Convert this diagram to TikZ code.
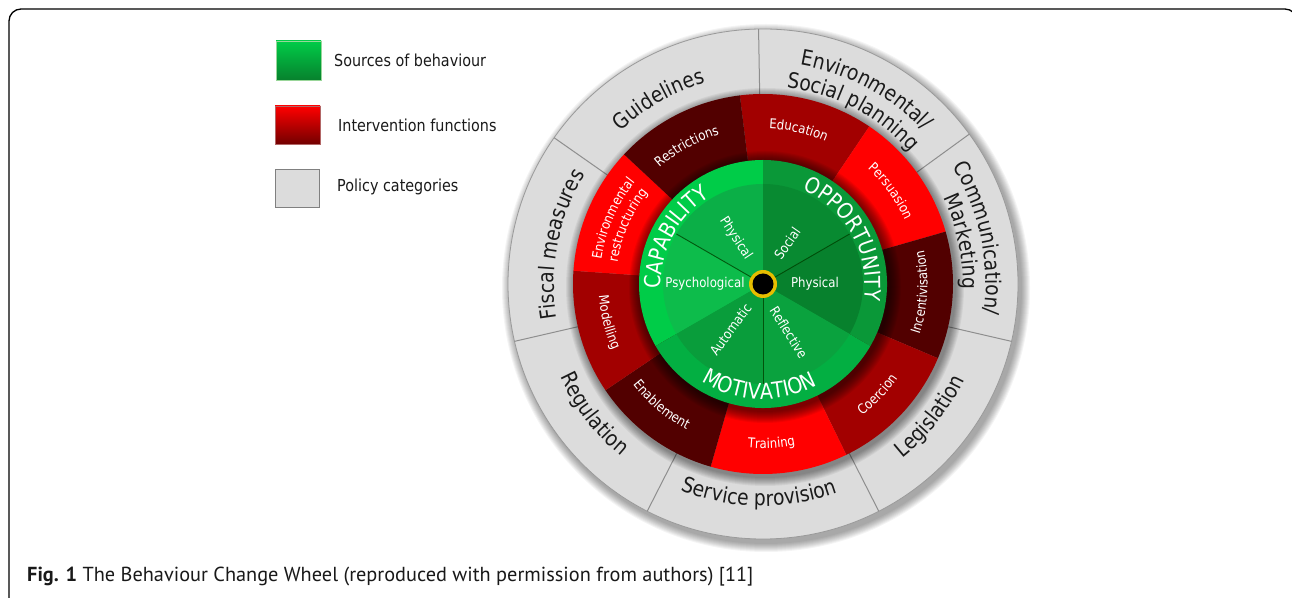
\documentclass[tikz,border=0pt]{standalone}
\usepackage{fontspec}
\usetikzlibrary{decorations.text}
\newfontfamily\wf[FakeStretch=0.87]{DejaVu Sans}
\newfontfamily\capf{PT Sans}
\definecolor{polygray}{HTML}{DCDCDC}
\definecolor{polyedge}{HTML}{9A9A9A}
\definecolor{sepgray}{HTML}{8E8E8E}
\definecolor{gtext}{HTML}{1A1A1A}
\definecolor{redm}{HTML}{A20000}
\definecolor{redb}{HTML}{FF0000}
\definecolor{redd}{HTML}{520000}
\definecolor{capband}{HTML}{00CC48}
\definecolor{capinA}{HTML}{0BAF47}
\definecolor{capinB}{HTML}{0DBC4B}
\definecolor{oppband}{HTML}{0A9838}
\definecolor{oppinA}{HTML}{088A31}
\definecolor{oppinB}{HTML}{07812D}
\definecolor{motband}{HTML}{03AF42}
\definecolor{motinA}{HTML}{099D3B}
\definecolor{motinB}{HTML}{0AA23E}
\definecolor{hubyellow}{HTML}{E6BE00}
\newcommand\gfnt{\wf\fontsize{21.5}{21.5}\selectfont\color{gtext}}
\newcommand\rfnt{\wf\fontsize{13.5}{13.5}\selectfont\color{white}}
\newcommand\cfnt{\wf\fontsize{22}{22}\selectfont\color{white}}
% clockwise arc label (tops outward)
\newcommand\cwlabel[4]{\path[decorate,decoration={text along path,text align=center,text={#3}}] (#1+#4:#2) arc[start angle=#1+#4,end angle=#1-#4,radius=#2];}
% counter-clockwise arc label (tops inward)
\newcommand\ccwlabel[4]{\path[decorate,decoration={text along path,text align=center,text={#3}}] (#1-#4:#2) arc[start angle=#1-#4,end angle=#1+#4,radius=#2];}
\begin{document}
\begin{tikzpicture}[x=1pt,y=1pt,
  legtext/.style={anchor=base west,inner sep=0,font=\wf\fontsize{16.5}{16.5}\selectfont,text=gtext},
  innerlab/.style={inner sep=0,font=\rfnt}]
\useasboundingbox (0,0) rectangle (1292,597);
\fill[white] (0,0) rectangle (1292,597);
\clip (0,0) rectangle (1292,597);
\draw[line width=1.3, rounded corners=12] (9,-30) rectangle (1297,588);

% legend
\shade[top color=capband, bottom color=oppinB, draw=green!60!black!40] (276,517) rectangle (321,556);
\shade[top color=redb, bottom color=red!45!black, draw=red!50!black!60] (275,453) rectangle (320,491);
\fill[polygray, draw=gray] (275,390) rectangle (319,428);
\node[legtext] (l1) at (334,530) {Sources of behaviour};
\node[legtext] (l2) at (338,465) {Intervention functions};
\node[legtext] (l3) at (337,405) {Policy categories};

% caption
\node[anchor=base west,inner sep=0,font=\capf\fontsize{20.3}{20.3}\selectfont,text=black!90] (cap) at (27,16)
  {\textbf{Fig. 1} The Behaviour Change Wheel (reproduced with permission from authors) [11]};

\begin{scope}[shift={(763,313)}]
  % outer drop shadow
  \foreach \i in {1,...,9} \fill[black,opacity=0.045] (3,-4) circle ({265-\i});
  \fill[polygray] (0,0) circle (255);
  \draw[polyedge, line width=0.8] (0,0) circle (255);
  \foreach \a in {91,36,-13,-63,-117,-167,145} \draw[sepgray, line width=1] (\a:190) -- (\a:255);
  % shadow cast on grey ring
  \foreach \i in {1,...,9} \fill[black,opacity=0.05] (2,-3) circle ({200-\i});
  % intervention functions
  \foreach \a/\b/\cl in {97/56/redm, 56/16/redb, 16/-23/redd, -23/-64/redm, -64/-106/redb, -106/-146/redd, -146/-184/redm, 176/137/redb, 137/97/redd}
    \fill[\cl] (0,0) -- (\a:190) arc[start angle=\a, end angle=\b, radius=190] -- cycle;
  % shadow cast on red ring
  \foreach \i in {1,...,12} \fill[black,opacity=0.055] (2,-3) circle ({137-\i});
  % sources of behaviour
  \foreach \a/\b/\cl in {90/210/capband, -30/90/oppband, 210/330/motband}
    \fill[\cl] (0,0) -- (\a:124) arc[start angle=\a, end angle=\b, radius=124] -- cycle;
  \foreach \a/\b/\cl in {90/150/capinA, 150/210/capinB, 30/90/oppinA, -30/30/oppinB, 210/270/motinA, 270/330/motinB}
    \fill[\cl] (0,0) -- (\a:100) arc[start angle=\a, end angle=\b, radius=100] -- cycle;
  \foreach \a in {30,150,270} \draw[black!75!green, line width=0.9, opacity=0.8] (0,0) -- (\a:100);
  \fill[hubyellow] (0,0) circle (14);
  \fill[black] (0,0) circle (10.5);

  % COM labels
  \cwlabel{152}{102}{|\cfnt|CAPABILITY}{50}
  \cwlabel{29}{102}{|\cfnt|OPPORTUNITY}{55}
  \ccwlabel{-92}{115}{|\cfnt|MOTIVATION}{50}

  % inner labels
  \node[innerlab, rotate=-57] (cphys) at (121:53) {Physical};
  \node[innerlab, rotate=55] (osoc) at (59:47) {Social};
  \node[innerlab] (cpsy) at (180:58) {Psychological};
  \node[innerlab] (ophys) at (0:52) {Physical};
  \node[innerlab, rotate=54] (maut) at (234.6:56) {Automatic};
  \node[innerlab, rotate=-58] (mref) at (-62:55) {Reflective};

  % intervention labels
  \cwlabel{77}{155.5}{|\rfnt|Education}{40}
  \cwlabel{36}{155.5}{|\rfnt|Persuasion}{40}
  \ccwlabel{-3}{164.5}{|\rfnt|Incentivisation}{40}
  \ccwlabel{-44}{164.5}{|\rfnt|Coercion}{40}
  \ccwlabel{-87}{164.5}{|\rfnt|Training}{40}
  \ccwlabel{-130}{164.5}{|\rfnt|Enablement}{40}
  \ccwlabel{-166}{164.5}{|\rfnt|Modelling}{40}
  \cwlabel{156.5}{163.5}{|\rfnt|Environmental}{40}
  \cwlabel{156.5}{147}{|\rfnt|restructuring}{40}
  \cwlabel{119}{155.5}{|\rfnt|Restrictions}{40}

  % policy labels
  \cwlabel{119.5}{209}{|\gfnt|Guidelines}{35}
  \cwlabel{62}{222}{|\gfnt|Environmental/}{35}
  \cwlabel{62.5}{198}{|\gfnt|Social planning}{35}
  \cwlabel{12}{223}{|\gfnt|Communication/}{35}
  \cwlabel{12}{200}{|\gfnt|Marketing}{35}
  \ccwlabel{-38.4}{223}{|\gfnt|Legislation}{35}
  \ccwlabel{-91}{222}{|\gfnt|Service provision}{35}
  \ccwlabel{-142.5}{223}{|\gfnt|Regulation}{35}
  \cwlabel{169}{209}{|\gfnt|Fiscal measures}{35}
\end{scope}
\end{tikzpicture}
\end{document}
